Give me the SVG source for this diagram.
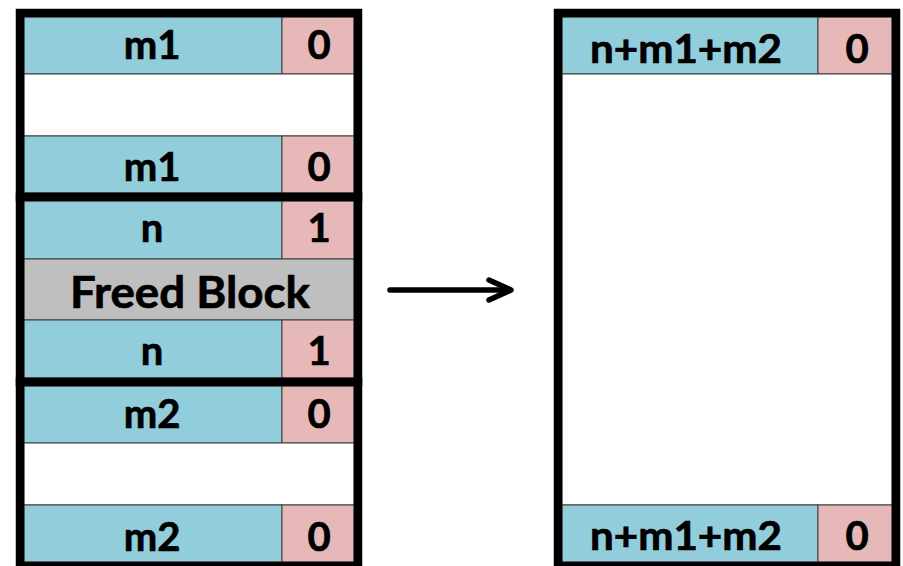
<svg xmlns="http://www.w3.org/2000/svg" width="903" height="566" viewBox="0 0 903 566">
<style>
.hdr{fill:#92CDDC;stroke:#3a3a3a;stroke-width:1}
.bit{fill:#E6B8B7;stroke:#3a3a3a;stroke-width:1}
.gap{fill:#FFFFFF;stroke:#3a3a3a;stroke-width:1}
.frd{fill:#BFBFBF;stroke:#3a3a3a;stroke-width:1}
.box{fill:none;stroke:#000;stroke-width:8.5}
.t{font-family:Lato,"Liberation Sans",sans-serif;font-weight:bold;font-size:40px;fill:#000;stroke:#000;stroke-width:0.7;text-anchor:middle}
.big{font-size:44px}
.arr{fill:none;stroke:#000;stroke-width:5.5;stroke-linecap:round;stroke-linejoin:round}
</style>
<rect width="903" height="566" fill="#fff"/>
<g id="left-prev-block">
  <rect class="hdr" x="24" y="17" width="258" height="57"/>
  <rect class="bit" x="282" y="17" width="72" height="57"/>
  <rect class="gap" x="24" y="74" width="330" height="62"/>
  <rect class="hdr" x="24" y="136" width="258" height="57"/>
  <rect class="bit" x="282" y="136" width="72" height="57"/>
  <text class="t" x="152" y="59">m1</text>
  <text class="t" x="319" y="59">0</text>
  <text class="t" x="152" y="181">m1</text>
  <text class="t" x="319" y="181">0</text>
  <rect class="box" x="20" y="13" width="338" height="184"/>
</g>
<g id="left-freed-block">
  <rect class="hdr" x="24" y="201" width="258" height="58"/>
  <rect class="bit" x="282" y="201" width="72" height="58"/>
  <rect class="frd" x="24" y="259" width="330" height="61"/>
  <rect class="hdr" x="24" y="320" width="258" height="58"/>
  <rect class="bit" x="282" y="320" width="72" height="58"/>
  <text class="t" x="152" y="242">n</text>
  <text class="t" x="319" y="242">1</text>
  <text class="t big" x="190" y="308" textLength="240" lengthAdjust="spacingAndGlyphs">Freed Block</text>
  <text class="t" x="152" y="365">n</text>
  <text class="t" x="319" y="365">1</text>
  <rect class="box" x="20" y="197" width="338" height="185"/>
</g>
<g id="left-next-block">
  <rect class="hdr" x="24" y="386" width="258" height="57"/>
  <rect class="bit" x="282" y="386" width="72" height="57"/>
  <rect class="gap" x="24" y="443" width="330" height="62"/>
  <rect class="hdr" x="24" y="505" width="258" height="57"/>
  <rect class="bit" x="282" y="505" width="72" height="57"/>
  <text class="t" x="152" y="428">m2</text>
  <text class="t" x="319" y="428">0</text>
  <text class="t" x="152" y="551">m2</text>
  <text class="t" x="319" y="551">0</text>
  <rect class="box" x="20" y="382" width="338" height="184"/>
</g>
<g id="right-coalesced-block">
  <rect class="hdr" x="562" y="17" width="256" height="57"/>
  <rect class="bit" x="818" y="17" width="74" height="57"/>
  <rect class="gap" x="562" y="74" width="330" height="431"/>
  <rect class="hdr" x="562" y="505" width="256" height="57"/>
  <rect class="bit" x="818" y="505" width="74" height="57"/>
  <text class="t" x="686" y="63" textLength="192" lengthAdjust="spacingAndGlyphs">n+m1+m2</text>
  <text class="t" x="857" y="63">0</text>
  <text class="t" x="686" y="550" textLength="192" lengthAdjust="spacingAndGlyphs">n+m1+m2</text>
  <text class="t" x="857" y="550">0</text>
  <rect class="box" x="558" y="13" width="338" height="553"/>
</g>
<g id="connectors">
  <path class="arr" d="M390 290 H510"/>
  <path class="arr" d="M489 280 L511 290 L489 300"/>
</g>
</svg>
